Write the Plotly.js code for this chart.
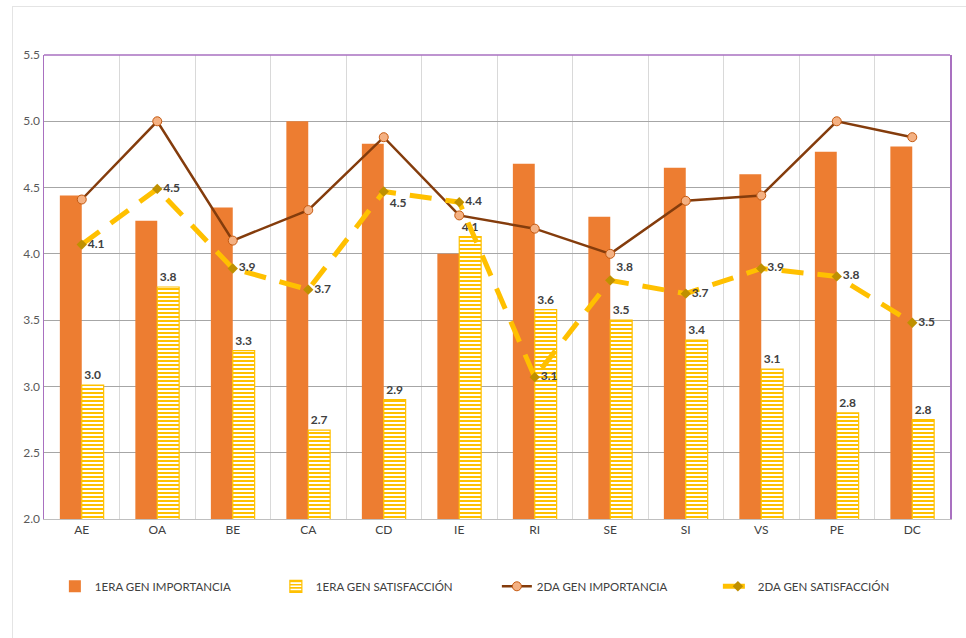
<!DOCTYPE html>
<html>
<head>
<meta charset="utf-8">
<script src="https://cdn.plot.ly/plotly-3.0.1.min.js"></script>
<style>
html,body{margin:0;padding:0;background:#fff;}
#wrap{position:relative;width:966px;height:638px;}
#frame{position:absolute;left:12px;top:6px;right:0;bottom:0;border-left:1px solid #e4e4e4;border-top:1px solid #e4e4e4;pointer-events:none;}
#chart{position:absolute;left:0;top:0;width:966px;height:638px;}
</style>
</head>
<body>
<div id="wrap"><div id="chart"></div><div id="frame"></div></div>
<script>
const categories = ["AE","OA","BE","CA","CD","IE","RI","SE","SI","VS","PE","DC"];
const imp1 = [4.44,4.25,4.35,5.00,4.83,4.00,4.68,4.28,4.65,4.60,4.77,4.81];
const sat1 = [3.01,3.75,3.27,2.67,2.90,4.13,3.58,3.50,3.35,3.13,2.80,2.75];
const imp2 = [4.41,5.00,4.10,4.33,4.88,4.29,4.19,4.00,4.40,4.44,5.00,4.88];
const sat2 = [4.07,4.49,3.89,3.73,4.47,4.39,3.07,3.80,3.70,3.89,3.83,3.48];
const sat2LabelPos = ["middle right","middle right","middle right","middle right","bottom right","middle right","middle right","top right","middle right","middle right","middle right","middle right"];
const seriesNames = ["1ERA GEN IMPORTANCIA","1ERA GEN SATISFACCIÓN","2DA GEN IMPORTANCIA","2DA GEN SATISFACCIÓN"];

const fontFam = "Lato, 'Liberation Sans', sans-serif";
const labelFont = {family: fontFam, size: 12, color: '#404040'};

const traces = [
  {type:'bar', name:seriesNames[0], x:categories, y:imp1,
   marker:{color:'#ED7D31'}, hoverinfo:'y'},
  {type:'bar', name:seriesNames[1], x:categories, y:sat1,
   marker:{color:'#FFFFFF', line:{color:'#FFC000', width:1.2},
     pattern:{shape:'-', fgcolor:'#FFC000', bgcolor:'#FFFFFF', size:4, solidity:0.5}},
   text: sat1.map(v=>v.toFixed(1)), texttemplate:'<b>%{text}</b>', textposition:'outside',
   textfont:labelFont, cliponaxis:false},
  {type:'scatter', mode:'lines+markers', name:seriesNames[2], x:categories, y:imp2,
   line:{color:'#843C0C', width:2.5},
   marker:{symbol:'circle', size:9, color:'#F4B183', line:{color:'#C55A11', width:1}}},
  {type:'scatter', mode:'lines+markers+text', name:seriesNames[3], x:categories, y:sat2,
   line:{color:'#FFC000', width:5, dash:'22px,14px'},
   marker:{symbol:'diamond', size:8, color:'#BF9000'},
   text: sat2.map(v=>v.toFixed(1)), texttemplate:'<b>%{text}</b>', textposition:sat2LabelPos,
   textfont:labelFont, cliponaxis:false}
];

const layout = {
  width:966, height:638,
  margin:{l:44, r:16, t:55, b:119},
  paper_bgcolor:'rgba(0,0,0,0)', plot_bgcolor:'#FFFFFF',
  barmode:'group', bargap:0.42, bargroupgap:0,
  font:{family:fontFam, size:12, color:'#404040'},
  showlegend:true,
  legend:{orientation:'h', x:0.012, xanchor:'left', y:-0.145, yanchor:'middle',
    font:{family:fontFam, size:11.5, color:'#404040'}, entrywidth:176, entrywidthmode:'pixels',
    traceorder:'normal'},
  xaxis:{type:'category', range:[-0.5, 11.5], autorange:false, tickson:'boundaries', showgrid:true, gridcolor:'#D9D9D9', gridwidth:1,
    showline:true, linecolor:'#BFBFBF', linewidth:1, ticks:'', ticklen:0,
    tickfont:{family:fontFam, size:12, color:'#404040'}, fixedrange:true},
  yaxis:{range:[2,5.5], autorange:false, dtick:0.5, tickformat:'.1f', showgrid:true, gridcolor:'#A6A6A6', gridwidth:1,
    showline:true, mirror:true, linecolor:'#A970C0', linewidth:1.5, zeroline:false, ticks:'',
    tickfont:{family:fontFam, size:12, color:'#595959'}, fixedrange:true},
  shapes:[{type:'line', xref:'paper', yref:'paper', x0:0, x1:1, y0:1, y1:1,
    line:{color:'#A970C0', width:1.5}}]
};

Plotly.newPlot('chart', traces, layout, {displayModeBar:false, staticPlot:true});
</script>
</body>
</html>
